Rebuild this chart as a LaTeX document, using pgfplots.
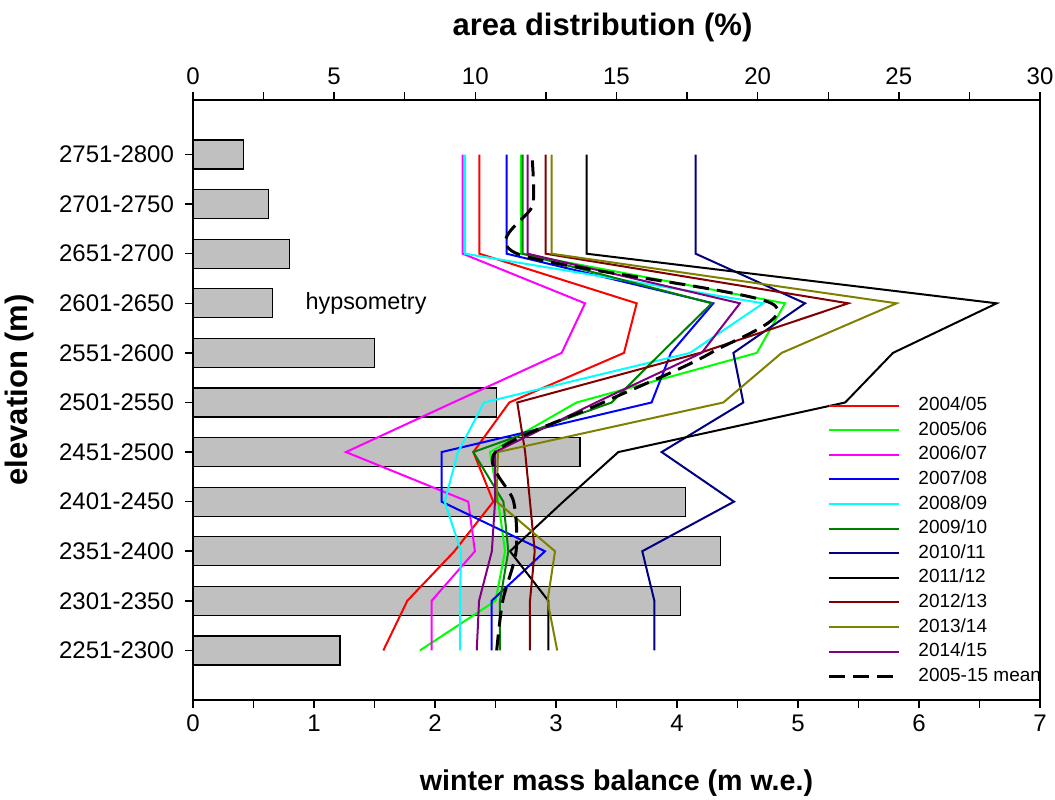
\documentclass[border=0pt]{standalone}
\usepackage{fontspec}
\setmainfont{Liberation Sans}
\usepackage{pgfplots}
\pgfplotsset{compat=1.18}
\definecolor{barfill}{RGB}{192,192,192}
\definecolor{cRed}{RGB}{255,0,0}
\definecolor{cLime}{RGB}{0,255,0}
\definecolor{cMag}{RGB}{255,0,255}
\definecolor{cBlue}{RGB}{0,0,255}
\definecolor{cCyan}{RGB}{0,255,255}
\definecolor{cDGreen}{RGB}{0,128,0}
\definecolor{cNavy}{RGB}{0,0,128}
\definecolor{cDRed}{RGB}{128,0,0}
\definecolor{cOlive}{RGB}{128,128,0}
\definecolor{cPurple}{RGB}{128,0,128}
\pgfplotsset{
  common/.style={
    at={(0,0)}, anchor=south west, scale only axis,
    width=423.5pt, height=300pt,
    ymin=-1, ymax=11.1,
    tick align=outside,
    major tick length=4pt, minor tick length=4pt,
    axis line style={line width=0.75pt},
    every tick/.style={black, line width=0.75pt},
    tick label style={font=\fontsize{12}{14}\selectfont},
    /pgf/number format/assume math mode=true,
  }
}
\begin{document}
\begin{tikzpicture}
\path[use as bounding box] (-96.5pt,-49.5pt) rectangle (431pt,350pt);
% bar axis (hypsometry, top axis)
\begin{axis}[common,
  xmin=0, xmax=30,
  xtick={0,5,...,30}, minor xtick={2.5,7.5,...,27.5},
  xtick pos=right, xticklabel pos=right,
  ytick={0,...,10},
  yticklabels={2251-2300,2301-2350,2351-2400,2401-2450,2451-2500,2501-2550,2551-2600,2601-2650,2651-2700,2701-2750,2751-2800},
  ytick pos=left,
  yticklabel style={xshift=-2pt},
  xlabel={area distribution (\%)},
  xlabel style={at={(axis description cs:0.4835,1)}, anchor=center, yshift=36.5pt,
    font=\bfseries\fontsize{15.5}{18}\selectfont},
  ylabel={elevation (m)},
  ylabel style={at={(axis description cs:-0.2043,0.517)}, anchor=center, rotate=0,
    font=\bfseries\fontsize{15.5}{18}\selectfont},
  xbar, bar width=14.5pt,
]
\addplot[fill=barfill, draw=black, line width=0.6pt] coordinates {
(5.21,0) (17.27,1) (18.69,2) (17.45,3) (13.71,4) (10.76,5) (6.43,6) (2.81,7) (3.41,8) (2.68,9) (1.80,10)};
\end{axis}
% winter balance axis (bottom axis)
\begin{axis}[common,
  xmin=0, xmax=7,
  xtick={0,...,7}, minor xtick={0.5,1.5,...,6.5},
  xtick pos=left, xticklabel pos=left,
  ytick=\empty,
  xlabel={winter mass balance (m w.e.)},
  xlabel style={at={(axis description cs:0.5,0)}, anchor=center, yshift=-41.5pt,
    font=\bfseries\fontsize{14.3}{17}\selectfont},
  legend style={draw=none, fill=none, at={(0.7415,0.513)}, anchor=north west,
    font=\fontsize{9.5}{11}\selectfont, row sep=3.3pt, column sep=9pt,
    nodes={inner sep=0pt, text height=7pt, text depth=2pt}},
  legend cell align=left,
  legend image code/.code={\draw[#1] (0pt,0pt) -- (35pt,0pt);},
  every axis plot/.append style={line width=1pt},
]
\addplot[cRed] coordinates {(1.573,0) (1.771,1) (2.16,2) (2.482,3) (2.317,4) (2.614,5) (3.562,6) (3.667,7) (2.367,8) (2.367,9) (2.367,10)};
\addlegendentry{2004/05}
\addplot[cLime] coordinates {(1.876,0) (2.50,1) (2.579,2) (2.523,3) (2.455,4) (3.17,5) (4.66,6) (4.893,7) (2.711,8) (2.711,9) (2.711,10)};
\addlegendentry{2005/06}
\addplot[cMag] coordinates {(1.972,0) (1.972,1) (2.33,2) (2.275,3) (1.264,4) (2.15,5) (3.047,6) (3.24,7) (2.229,8) (2.229,9) (2.229,10)};
\addlegendentry{2006/07}
\addplot[cBlue] coordinates {(2.468,0) (2.468,1) (2.909,2) (2.055,3) (2.055,4) (3.79,5) (3.95,6) (4.30,7) (2.592,8) (2.592,9) (2.592,10)};
\addlegendentry{2007/08}
\addplot[cCyan] coordinates {(2.207,0) (2.207,1) (2.215,2) (2.08,3) (2.19,4) (2.405,5) (4.107,6) (4.713,7) (2.248,8) (2.248,9) (2.248,10)};
\addlegendentry{2008/09}
\addplot[cDGreen] coordinates {(2.537,0) (2.537,1) (2.606,2) (2.565,3) (2.317,4) (3.46,5) (3.87,6) (4.287,7) (2.725,8) (2.725,9) (2.725,10)};
\addlegendentry{2009/10}
\addplot[cNavy] coordinates {(3.813,0) (3.813,1) (3.713,2) (4.471,3) (3.873,4) (4.548,5) (4.466,6) (5.058,7) (4.154,8) (4.154,9) (4.154,10)};
\addlegendentry{2010/11}
\addplot[black] coordinates {(2.937,0) (2.937,1) (2.62,2) (3.06,3) (3.515,4) (5.39,5) (5.785,6) (6.642,7) (3.253,8) (3.253,9) (3.253,10)};
\addlegendentry{2011/12}
\addplot[cDRed] coordinates {(2.785,0) (2.785,1) (2.824,2) (2.785,3) (2.745,4) (2.68,5) (4.19,6) (5.416,7) (2.915,8) (2.915,9) (2.915,10)};
\addlegendentry{2012/13}
\addplot[cOlive] coordinates {(3.01,0) (2.93,1) (2.992,2) (2.51,3) (2.52,4) (4.383,5) (4.865,6) (5.815,7) (2.964,8) (2.964,9) (2.964,10)};
\addlegendentry{2013/14}
\addplot[cPurple] coordinates {(2.345,0) (2.364,1) (2.47,2) (2.496,3) (2.496,4) (3.33,5) (4.204,6) (4.52,7) (2.766,8) (2.766,9) (2.766,10)};
\addlegendentry{2014/15}
\addplot[black, line width=1.5pt, dash pattern=on 8pt off 4pt, smooth] coordinates {(2.51,0) (2.56,1) (2.67,2) (2.65,3) (2.50,4) (3.39,5) (4.28,6) (4.78,7) (2.68,8) (2.81,9) (2.80,10)};
\addlegendentry{2005-15 mean}
\node[font=\fontsize{11.7}{14}\selectfont] at (axis cs:1.43,7) {hypsometry};
\end{axis}
\end{tikzpicture}
\end{document}
